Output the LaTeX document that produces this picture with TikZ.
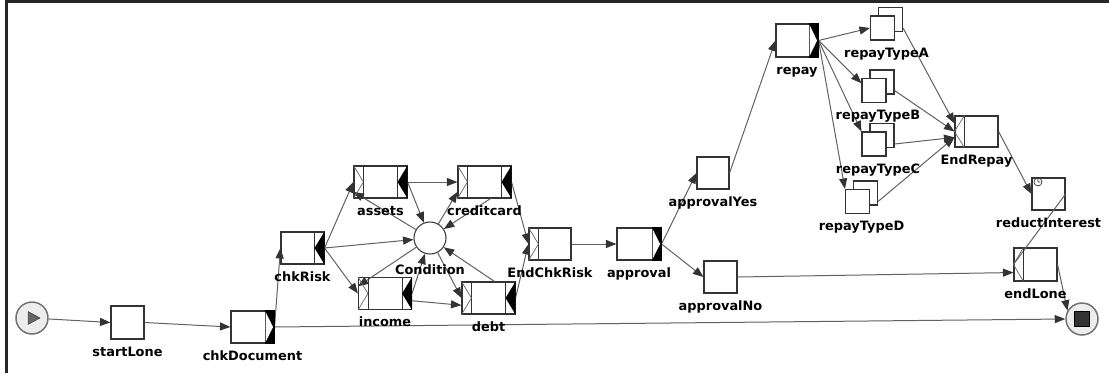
\documentclass[tikz,border=0pt]{standalone}
\usepackage{fontspec}
\setmainfont{DejaVu Sans}
\usetikzlibrary{positioning,arrows.meta,shadows}

\tikzset{
  task/.style={draw=black!80, fill=white, line width=1.1pt, inner sep=0pt, minimum width=43pt, minimum height=32pt},
  wide/.style={task, minimum width=53pt},
  atomic/.style={task, minimum width=33pt},
  multi/.style={task, minimum width=24pt, minimum height=24pt,
    copy shadow={shadow xshift=8pt, shadow yshift=8.5pt, draw=black!80, fill=white, line width=1.1pt}},
  cond/.style={circle, draw=black!75, fill=white, line width=1.1pt, minimum size=32pt, inner sep=0pt},
  ends/.style={cond, fill=black!7, draw=black!55, line width=1.5pt},
  lab/.style={inner sep=0pt, text height=9.5pt, text depth=2.5pt, font=\fontsize{12.9}{15}\selectfont\bfseries},
  flow/.style={draw=black!62, line width=1pt, -{Triangle[length=10.5pt,width=8pt,color=black!80]}},
}

\begin{document}
\begin{tikzpicture}[x=1pt, y=-1pt]
\useasboundingbox (0,0) rectangle (1109,373);
\draw[line width=2.2pt, black!85] (6.5,373) -- (6.5,1.5) -- (1109,1.5);

\node[ends] (inputCond) at (32,318) {};
\fill[black!60, draw=black!80] ([shift={(-4,-6.5)}]inputCond.center) -- ([shift={(8,0)}]inputCond.center) -- ([shift={(-4,6.5)}]inputCond.center) -- cycle;
\node[atomic, minimum height=33pt] (startLone) at (127.5,322.5) {};
\node[task] (chkDocument) at (252.5,327) {};
\node[task] (chkRisk) at (302.5,248) {};
\node[wide] (assets) at (380.5,182) {};
\node[wide] (creditcard) at (484.5,182) {};
\node[cond] (Condition) at (430,238) {};
\node[wide] (income) at (385,293.5) {};
\node[wide] (debt) at (488.5,298) {};
\node[task, minimum width=42pt] (EndChkRisk) at (550,244) {};
\node[task, minimum width=44pt] (approval) at (639,244) {};
\node[atomic, minimum width=32pt] (approvalYes) at (713,173) {};
\node[atomic] (approvalNo) at (720.5,277) {};
\node[task, minimum width=42pt, minimum height=33pt] (repay) at (797,40.5) {};
\node[multi] (repayTypeA) at (882.5,28) {};
\node[multi] (repayTypeB) at (874,90.5) {};
\node[multi] (repayTypeC) at (874,144) {};
\node[multi] (repayTypeD) at (857.5,201.5) {};
\node[task, minimum height=31pt] (EndRepay) at (976.5,131.5) {};
\node[atomic] (reductInterest) at (1048.5,194) {};
\node[task, minimum height=33pt] (endLone) at (1035.5,264.5) {};
\node[ends] (outputCond) at (1082,319) {};
\node[draw=black, fill=black!80, minimum size=15pt, inner sep=0pt] (stopMark) at (outputCond) {};

\draw[flow] (inputCond) -- (startLone.west);
\draw[flow] (startLone.east) -- (chkDocument.west);
\draw[flow] (chkDocument.east) -- (chkRisk.west);
\draw[flow] (chkDocument.east) -- (outputCond.west);
\draw[flow] (chkRisk.east) -- (assets.west);
\draw[flow] (chkRisk.east) -- (Condition);
\draw[flow] (chkRisk.east) -- (income.west);
\draw[flow] (assets.east) -- (creditcard.west);
\draw[flow] (assets.east) -- (Condition);
\draw[flow] (Condition) -- (assets.200);
\draw[flow] (creditcard.-70) -- (Condition);
\draw[flow] (Condition) -- (creditcard.200);
\draw[flow] (income.east) -- (Condition);
\draw[flow] (Condition) -- (income.165);
\draw[flow] (income.-15) -- (debt.195);
\draw[flow] (debt.70) -- (Condition);
\draw[flow] (Condition) -- (debt.west);
\draw[flow] (creditcard.east) -- (EndChkRisk.west);
\draw[flow] (debt.east) -- (EndChkRisk.west);
\draw[flow] (EndChkRisk.east) -- (approval.west);
\draw[flow] (approval.east) -- (approvalYes.west);
\draw[flow] (approval.east) -- (approvalNo.west);
\draw[flow] (approvalYes.east) -- (repay.west);
\draw[flow] (repay.east) -- (repayTypeA.west);
\draw[flow] (repay.east) -- (repayTypeB.150);
\draw[flow] (repay.east) -- (repayTypeC.north west);
\draw[flow] (repay.east) -- (repayTypeD.north west);
\draw[flow] ([xshift=8pt]repayTypeA.east) -- (EndRepay.160);
\draw[flow] ([xshift=8pt]repayTypeB.east) -- (EndRepay.west);
\draw[flow] ([xshift=8pt]repayTypeC.east) -- (EndRepay.195);
\draw[flow] ([xshift=8pt]repayTypeD.east) -- (EndRepay.195);
\draw[flow] (EndRepay.east) -- (reductInterest.west);
\draw[flow, -] (reductInterest.east) -- (endLone.west);
\draw[flow] (approvalNo.east) -- (endLone.200);
\draw[flow] (endLone.east) -- (outputCond.150);

\foreach \n in {chkDocument,approval,repay} {
  \fill[black] ([xshift=-10pt]\n.north east) rectangle (\n.south east);
  \fill[white] ([xshift=-9pt,yshift=-1.5pt]\n.north east) -- ([xshift=-1.5pt]\n.east) -- ([xshift=-9pt,yshift=1.5pt]\n.south east) -- cycle;
}
\foreach \n in {chkRisk,assets,creditcard,income,debt} {
  \draw[black!80, line width=0.9pt] ([xshift=-10pt]\n.north east) -- ([xshift=-10pt]\n.south east);
  \fill[black] (\n.north east) -- ([xshift=-10pt]\n.east) -- (\n.south east) -- cycle;
}
\foreach \n in {assets,creditcard,income,debt,EndChkRisk} {
  \draw[black!80, line width=0.9pt] ([xshift=10pt]\n.north west) -- ([xshift=10pt]\n.south west);
  \draw[black!60, line width=0.7pt] (\n.north west) -- ([xshift=10pt]\n.west) -- (\n.south west);
}
\foreach \n in {EndRepay,endLone} {
  \draw[black!80, line width=0.9pt] ([xshift=10pt]\n.north west) -- ([xshift=10pt]\n.south west);
  \draw[black!60, line width=0.7pt] ([xshift=10pt]\n.north west) -- (\n.west) -- ([xshift=10pt]\n.south west);
}
\draw[black!80, line width=0.7pt] ([shift={(6.5,4.5)}]reductInterest.north west) circle[radius=4pt]
  ([shift={(6.5,4.5)}]reductInterest.north west) -- ([shift={(6.5,1)}]reductInterest.north west)
  ([shift={(6.5,4.5)}]reductInterest.north west) -- ([shift={(9,4.5)}]reductInterest.north west);

\foreach \n in {startLone,chkDocument,chkRisk,assets,creditcard,income,debt,EndChkRisk,approval,approvalYes,approvalNo,repay,EndRepay,reductInterest,endLone}
  \node[lab, below=7pt of \n] (\n-lbl) {\n};
\foreach \n in {repayTypeA,repayTypeB,repayTypeC,repayTypeD}
  \node[lab, below=7pt of \n, xshift=4pt] (\n-lbl) {\n};
\node[lab, below=10.5pt of Condition] (Condition-lbl) {Condition};
\end{tikzpicture}
\end{document}
